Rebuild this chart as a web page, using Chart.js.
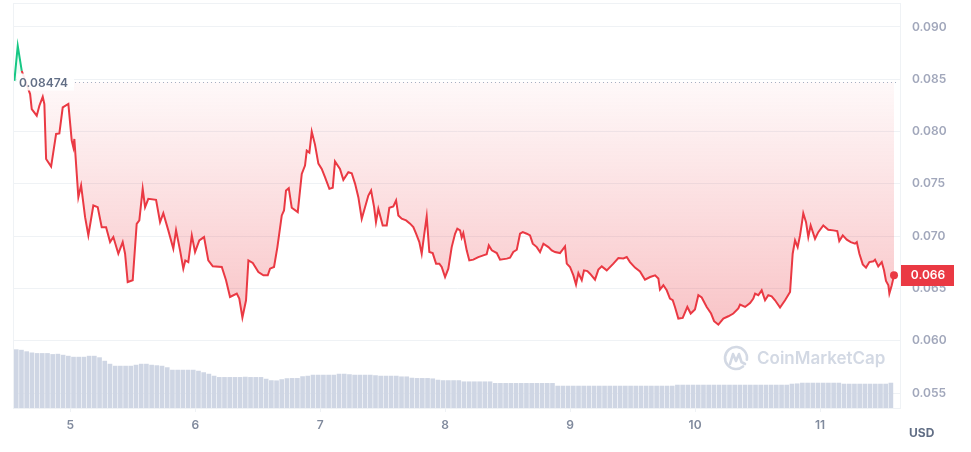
<!DOCTYPE html>
<html><head><meta charset="utf-8">
<script src="https://cdn.jsdelivr.net/npm/chart.js@4.4.1/dist/chart.umd.min.js"></script>
<style>html,body{margin:0;padding:0;background:#fff}#wrap{position:relative;width:971px;height:452px}</style>
</head><body><div id="wrap"><canvas id="c"></canvas></div>
<script>
const BASE_PRICE = 0.08474;
const BASE_LABEL = '0.08474';
const LAST_LABEL = '0.066';
const UNIT_LABEL = 'USD';
const WATERMARK = 'CoinMarketCap';
const dayTicks = [5, 6, 7, 8, 9, 10, 11];
const priceTicks = [0.055, 0.060, 0.065, 0.070, 0.075, 0.080, 0.085, 0.090];

const priceTimes = [4.552,4.579,4.611,4.678,4.691,4.731,4.752,4.779,4.792,4.806,4.846,4.886,4.912,4.939,4.984,5.011,5.024,5.032,5.064,5.086,5.118,5.144,5.184,5.219,5.251,5.286,5.318,5.344,5.384,5.419,5.438,5.459,5.499,5.531,5.552,5.579,5.598,5.624,5.686,5.718,5.744,5.784,5.824,5.846,5.878,5.904,5.920,5.944,5.972,5.998,6.032,6.070,6.104,6.140,6.212,6.246,6.278,6.332,6.352,6.377,6.406,6.425,6.460,6.505,6.545,6.580,6.598,6.630,6.657,6.692,6.710,6.726,6.748,6.772,6.820,6.852,6.878,6.892,6.913,6.932,6.958,6.985,7.012,7.038,7.073,7.100,7.118,7.158,7.185,7.225,7.252,7.279,7.305,7.332,7.351,7.385,7.407,7.431,7.446,7.465,7.479,7.500,7.532,7.553,7.585,7.607,7.625,7.652,7.687,7.719,7.745,7.767,7.793,7.812,7.833,7.852,7.873,7.900,7.927,7.953,7.972,7.999,8.025,8.052,8.079,8.097,8.119,8.132,8.145,8.172,8.193,8.225,8.265,8.305,8.332,8.349,8.373,8.413,8.439,8.493,8.519,8.545,8.573,8.599,8.621,8.653,8.679,8.701,8.733,8.759,8.786,8.826,8.853,8.879,8.919,8.959,8.973,8.999,9.026,9.047,9.066,9.093,9.111,9.138,9.159,9.199,9.226,9.253,9.293,9.346,9.386,9.426,9.453,9.479,9.519,9.559,9.599,9.640,9.680,9.706,9.719,9.746,9.773,9.799,9.821,9.839,9.866,9.901,9.938,9.965,9.999,10.026,10.053,10.093,10.128,10.152,10.186,10.226,10.266,10.306,10.346,10.360,10.400,10.440,10.466,10.480,10.506,10.533,10.560,10.586,10.613,10.640,10.680,10.720,10.760,10.781,10.800,10.821,10.840,10.854,10.866,10.888,10.906,10.925,10.960,10.986,11.026,11.066,11.106,11.138,11.154,11.182,11.214,11.246,11.280,11.294,11.315,11.342,11.368,11.395,11.427,11.440,11.466,11.494,11.512,11.528,11.547,11.555,11.574,11.592];

const priceValues = [0.08485,0.08819,0.08580,0.08358,0.08215,0.08151,0.08247,0.08332,0.08263,0.07738,0.07665,0.07977,0.07982,0.08230,0.08263,0.07913,0.07849,0.07929,0.07372,0.07484,0.07181,0.07007,0.07293,0.07277,0.07086,0.07086,0.06943,0.06991,0.06832,0.06943,0.06832,0.06561,0.06578,0.07118,0.07150,0.07452,0.07277,0.07357,0.07347,0.07134,0.07220,0.07055,0.06880,0.07055,0.06864,0.06689,0.06768,0.06752,0.07007,0.06848,0.06959,0.06991,0.06768,0.06711,0.06705,0.06578,0.06418,0.06451,0.06403,0.06222,0.06387,0.06768,0.06743,0.06657,0.06625,0.06625,0.06689,0.06705,0.06895,0.07198,0.07245,0.07436,0.07458,0.07271,0.07229,0.07595,0.07674,0.07817,0.07798,0.07999,0.07875,0.07693,0.07643,0.07563,0.07452,0.07462,0.07715,0.07643,0.07538,0.07611,0.07601,0.07500,0.07372,0.07166,0.07245,0.07388,0.07436,0.07277,0.07134,0.07261,0.07198,0.07102,0.07102,0.07271,0.07283,0.07341,0.07198,0.07166,0.07150,0.07119,0.07086,0.07023,0.06943,0.06832,0.07023,0.07188,0.06848,0.06838,0.06737,0.06737,0.06705,0.06609,0.06689,0.06895,0.07023,0.07071,0.07055,0.06985,0.07029,0.06864,0.06768,0.06775,0.06800,0.06816,0.06826,0.06911,0.06864,0.06838,0.06775,0.06785,0.06794,0.06848,0.06870,0.07023,0.07038,0.07023,0.07007,0.06928,0.06895,0.06848,0.06928,0.06895,0.06864,0.06848,0.06838,0.06902,0.06737,0.06705,0.06625,0.06537,0.06647,0.06578,0.06673,0.06666,0.06641,0.06584,0.06680,0.06711,0.06673,0.06737,0.06790,0.06787,0.06800,0.06752,0.06699,0.06663,0.06584,0.06609,0.06625,0.06594,0.06489,0.06530,0.06482,0.06403,0.06387,0.06323,0.06212,0.06218,0.06323,0.06260,0.06298,0.06435,0.06413,0.06323,0.06260,0.06187,0.06155,0.06212,0.06234,0.06260,0.06308,0.06346,0.06323,0.06361,0.06403,0.06451,0.06435,0.06482,0.06387,0.06435,0.06425,0.06387,0.06317,0.06387,0.06466,0.06832,0.06959,0.06895,0.07007,0.07118,0.07219,0.07134,0.06991,0.07102,0.06975,0.07038,0.07102,0.07061,0.07055,0.07048,0.06953,0.07007,0.06966,0.06943,0.06928,0.06943,0.06832,0.06730,0.06699,0.06752,0.06759,0.06775,0.06711,0.06752,0.06673,0.06571,0.06530,0.06451,0.06530,0.06625];

// hourly volume bars (arbitrary millions USD)
const volumeStartDay = 4.567;
const volumeValues = [5.85,5.80,5.65,5.53,5.47,5.47,5.47,5.37,5.40,5.30,5.20,5.10,5.10,5.10,5.20,5.20,5.05,4.70,4.40,4.20,4.20,4.20,4.20,4.30,4.40,4.40,4.30,4.25,4.20,4.05,3.80,3.80,3.80,3.80,3.80,3.70,3.55,3.40,3.20,3.07,
3.07,3.07,3.07,3.07,3.10,3.07,3.07,3.07,
2.90,2.75,2.73,2.85,2.95,2.97,2.97,3.15,3.20,3.30,
3.30,3.30,3.30,3.30,
3.40,3.40,3.35,
3.30,3.30,3.30,3.30,
3.25,
3.20,3.20,3.20,3.20,
3.13,3.13,3.00,
2.97,2.97,2.97,
2.93,2.80,
2.75,2.75,2.75,2.75,
2.63,2.63,2.63,2.63,2.63,2.63,
2.47,2.47,2.47,2.47,2.47,2.47,2.47,2.47,2.47,2.47,2.47,2.47,
2.20,2.20,2.20,2.20,2.20,2.20,2.20,2.20,2.20,2.20,2.20,2.20,2.20,2.20,2.20,2.20,2.20,2.20,2.20,2.20,2.20,2.20,2.20,
2.30,2.30,2.30,2.30,2.30,2.30,2.30,2.30,2.30,2.30,2.30,2.30,2.30,2.30,2.30,2.30,2.30,2.30,2.30,2.30,2.30,2.30,
2.40,2.43,
2.50,2.50,2.50,2.50,2.50,2.50,2.50,2.50,
2.40,2.40,2.40,2.40,2.40,2.40,2.40,2.40,2.40,
2.50];

const GREEN = '#16c784';
const RED = '#ea3943';
const GRID = '#eff2f5';

const n = Math.min(priceTimes.length, priceValues.length);
const priceData = [];
for (let i = 0; i < n; i++) priceData.push({x: priceTimes[i], y: priceValues[i]});
const volumeData = volumeValues.map((v, i) => ({x: volumeStartDay + i / 24, y: v}));

function noPad(s) { s.paddingTop = 0; s.paddingBottom = 0; s.paddingLeft = 0; s.paddingRight = 0; }

const framePlugin = {
  id: 'frame',
  beforeDatasetsDraw(chart) {
    const {ctx, chartArea: a} = chart;
    ctx.save();
    ctx.strokeStyle = GRID;
    ctx.lineWidth = 1;
    ctx.strokeRect(a.left - 0.5, a.top - 0.5, a.right - a.left, a.bottom - a.top + 1);
    // watermark
    const cx = a.right - 165, cy = a.bottom - 50;
    ctx.strokeStyle = '#d3d9e4';
    ctx.lineWidth = 2.6;
    ctx.lineCap = 'round';
    ctx.lineJoin = 'round';
    ctx.beginPath();
    ctx.arc(cx, cy, 11, 0.28 * Math.PI, 2.05 * Math.PI);
    ctx.stroke();
    ctx.beginPath();
    ctx.moveTo(cx - 6, cy + 6);
    ctx.lineTo(cx - 3, cy - 4);
    ctx.lineTo(cx, cy + 3);
    ctx.lineTo(cx + 3, cy - 4);
    ctx.lineTo(cx + 5.5, cy + 4);
    ctx.lineTo(cx + 9, cy + 6);
    ctx.stroke();
    ctx.fillStyle = '#d3d9e4';
    ctx.font = '600 17px Inter';
    ctx.textAlign = 'left';
    ctx.textBaseline = 'middle';
    ctx.fillText(WATERMARK, cx + 21, cy + 0.5);
    ctx.restore();
  }
};

const overlayPlugin = {
  id: 'overlay',
  afterDatasetsDraw(chart) {
    const {ctx, chartArea: a, scales: {y}} = chart;
    const by = Math.round(y.getPixelForValue(BASE_PRICE)) + 0.5;
    ctx.save();
    // base label box
    ctx.fillStyle = 'rgba(255,255,255,0.9)';
    ctx.fillRect(a.left + 3, by - 9, 57, 17);
    ctx.fillStyle = '#626f86';
    ctx.font = '600 12px Inter';
    ctx.textAlign = 'left';
    ctx.textBaseline = 'middle';
    ctx.fillText(BASE_LABEL, a.left + 5, by + 0.5);
    // dotted line
    ctx.strokeStyle = '#a6b0c3';
    ctx.lineWidth = 1;
    ctx.setLineDash([1, 3]);
    ctx.beginPath();
    ctx.moveTo(a.left + 61, by);
    ctx.lineTo(a.right - 4, by);
    ctx.stroke();
    ctx.setLineDash([]);
    // last price tag
    const last = priceValues[n - 1];
    const ly = y.getPixelForValue(last);
    ctx.fillStyle = RED;
    ctx.fillRect(a.right, Math.round(ly - 10.5), 53, 21);
    ctx.fillStyle = '#ffffff';
    ctx.font = '600 12px Inter';
    ctx.textAlign = 'center';
    ctx.fillText(LAST_LABEL, a.right + 27, ly + 0.5);
    // unit
    ctx.fillStyle = '#616e85';
    ctx.font = '700 12px Inter';
    ctx.textAlign = 'left';
    ctx.fillText(UNIT_LABEL, a.right + 8, a.bottom + 25);
    ctx.restore();
  }
};

new Chart(document.getElementById('c'), {
  type: 'line',
  data: {
    datasets: [
      {
        type: 'line',
        data: priceData,
        order: 1,
        borderColor: RED,
        borderWidth: 2,
        tension: 0,
        pointRadius: (c) => c.dataIndex === n - 1 ? 4 : 0,
        pointBackgroundColor: RED,
        pointBorderWidth: 0,
        segment: {
          borderColor: (c) => (c.p0.parsed.y > BASE_PRICE && c.p1.parsed.y > BASE_PRICE) ? GREEN : RED
        },
        fill: {value: BASE_PRICE, above: 'rgba(22,199,132,0.06)'},
        backgroundColor: (c) => {
          const ch = c.chart;
          const a = ch.chartArea;
          if (!a || !ch.scales.y) return 'rgba(234,57,67,0.12)';
          const y0 = ch.scales.y.getPixelForValue(BASE_PRICE);
          const g = ch.ctx.createLinearGradient(0, y0, 0, a.bottom - 80);
          g.addColorStop(0, 'rgba(234,57,67,0.03)');
          g.addColorStop(1, 'rgba(234,57,67,0.30)');
          return g;
        },
        yAxisID: 'y'
      },
      {
        type: 'bar',
        data: volumeData,
        order: 2,
        backgroundColor: '#cfd6e4',
        barThickness: 4,
        yAxisID: 'yv'
      }
    ]
  },
  options: {
    responsive: true,
    maintainAspectRatio: false,
    animation: false,
    layout: {padding: {left: 14, top: 3, right: 0, bottom: 0}},
    plugins: {legend: {display: false}, tooltip: {enabled: false}},
    scales: {
      x: {
        type: 'linear',
        offset: false,
        min: 4.549,
        max: 11.648,
        afterBuildTicks: (s) => { s.ticks = dayTicks.map(v => ({value: v})); },
        afterFit: (s) => { s.height = 44; noPad(s); },
        grid: {drawOnChartArea: false, drawTicks: true, tickLength: 4, color: GRID, offset: false},
        border: {display: false},
        ticks: {
          padding: 6,
          color: '#808a9d',
          font: {family: 'Inter', size: 12, weight: '600'},
          callback: (v) => String(v),
          maxRotation: 0
        }
      },
      y: {
        position: 'right',
        min: 0.05357,
        max: 0.09219,
        afterBuildTicks: (s) => { s.ticks = priceTicks.map(v => ({value: v})); },
        afterFit: (s) => { s.width = 70; noPad(s); },
        grid: {color: GRID, drawTicks: false},
        border: {display: false},
        ticks: {
          padding: 11,
          color: '#a1a7bb',
          font: {family: 'Inter', size: 12, weight: '600'},
          callback: (v) => Number(v).toFixed(3)
        }
      },
      yv: {
        display: false,
        min: 0,
        max: 40.5,
        afterFit: (s) => { noPad(s); }
      }
    }
  },
  plugins: [framePlugin, overlayPlugin]
});
</script>
</body></html>
